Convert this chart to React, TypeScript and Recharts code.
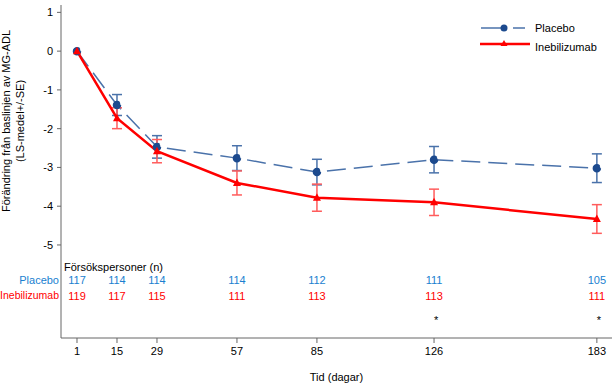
import { LineChart, Line, XAxis, YAxis, ErrorBar, ReferenceDot } from 'recharts';

const days = [1, 15, 29, 57, 85, 126, 183];
const placeboMean = [0, -1.39, -2.47, -2.76, -3.12, -2.8, -3.02];
const placeboSe = [0, 0.27, 0.29, 0.32, 0.33, 0.34, 0.37];
const inebMean = [0, -1.73, -2.58, -3.4, -3.78, -3.9, -4.33];
const inebSe = [0, 0.27, 0.3, 0.31, 0.35, 0.34, 0.37];
const placeboN = [117, 114, 114, 114, 112, 111, 105];
const inebN = [119, 117, 115, 111, 113, 113, 111];
const significantDays = [126, 183];
const yTicks = [1, 0, -1, -2, -3, -4, -5];

const BLUE_LINE = '#4a72aa';
const BLUE_DOT = '#1c4a8e';
const BLUE_TEXT = '#1a7fd0';
const RED = '#ff0000';
const RED_BAR = '#ff5c5c';
const AXIS = '#666';
const FONT = '"Liberation Sans", Arial, sans-serif';

const data = days.map((d, i) => ({
  day: d,
  placebo: placeboMean[i],
  placeboSe: placeboSe[i],
  ineb: inebMean[i],
  inebSe: inebSe[i],
}));

const Triangle = (props: any) => {
  const { cx, cy } = props;
  if (cx == null || cy == null) return null;
  return <polygon points={`${cx},${cy - 4.5} ${cx - 4},${cy + 3} ${cx + 4},${cy + 3}`} fill={RED} />;
};

// legend drawn as an overlay so it does not take space from the plot
const LegendBox = () => (
  <svg width={134} height={44} style={{ position: 'absolute', left: 480, top: 14 }}>
    <line x1={1} y1={14} x2={26} y2={14} stroke={BLUE_LINE} strokeWidth={1.5} />
    <line x1={33} y1={14} x2={45} y2={14} stroke={BLUE_LINE} strokeWidth={1.5} />
    <circle cx={24} cy={14} r={3.5} fill={BLUE_DOT} />
    <text x={55} y={18} fontSize={11} fontFamily={FONT} fill="#000">Placebo</text>
    <line x1={0} y1={30} x2={50} y2={30} stroke={RED} strokeWidth={2.5} />
    <polygon points="24,26 20.5,32 27.5,32" fill={RED} />
    <text x={55} y={37} fontSize={11} fontFamily={FONT} fill="#000">Inebilizumab</text>
  </svg>
);

const YLabel = () => (
  <g transform="rotate(-90, 14, 121)">
    <text x={14} y={121} textAnchor="middle" fontSize={11} fontFamily={FONT} fill="#000">
      <tspan x={14} dy={-4}>Förändring från baslinjen av MG-ADL</tspan>
      <tspan x={14} dy={14}>(LS-medel+/-SE)</tspan>
    </text>
  </g>
);

export default function App() {
  return (
    <div style={{ position: 'absolute', left: 0, top: 0, width: 614, height: 385, background: '#fff' }}>
      <LineChart width={614} height={385} data={data} margin={{ top: 5, right: 2, left: 0, bottom: 0 }}>
        <XAxis
          dataKey="day"
          type="number"
          domain={[-4.6, 188.3]}
          ticks={days}
          interval={0}
          height={47}
          tickSize={5}
          tickMargin={4}
          stroke={AXIS}
          tick={{ fontSize: 11, fill: '#000', fontFamily: FONT }}
          label={{ value: 'Tid (dagar)', position: 'insideBottom', offset: 4, fontSize: 11, fill: '#000', fontFamily: FONT }}
        />
        <YAxis
          type="number"
          domain={[-7.4, 1.19]}
          ticks={yTicks}
          interval={0}
          width={61}
          tickSize={4}
          tickMargin={4}
          stroke={AXIS}
          tick={{ fontSize: 11, fill: '#000', fontFamily: FONT }}
          label={{ content: () => <YLabel /> }}
        />
        <Line
          dataKey="placebo"
          type="linear"
          stroke={BLUE_LINE}
          strokeWidth={1.5}
          strokeDasharray="19 8"
          dot={{ r: 3.5, fill: BLUE_DOT, stroke: BLUE_DOT }}
          isAnimationActive={false}
        >
          <ErrorBar dataKey="placeboSe" width={5} stroke={BLUE_LINE} strokeWidth={1.5} />
        </Line>
        <Line
          dataKey="ineb"
          type="linear"
          stroke={RED}
          strokeWidth={2.5}
          dot={<Triangle />}
          isAnimationActive={false}
        >
          <ErrorBar dataKey="inebSe" width={5} stroke={RED_BAR} strokeWidth={1.5} />
        </Line>
        <ReferenceDot
          x={-4.6}
          y={-5.57}
          r={1}
          fill="none"
          stroke="none"
          label={{ value: 'Försökspersoner (n)', position: 'right', offset: 2, fontSize: 11, fill: '#000', fontFamily: FONT }}
        />
        <ReferenceDot
          x={-4.6}
          y={-5.9}
          r={1}
          fill="none"
          stroke="none"
          label={{ value: 'Placebo', position: 'left', offset: 1, fontSize: 11, fill: BLUE_TEXT, fontFamily: FONT }}
        />
        <ReferenceDot
          x={-4.6}
          y={-6.31}
          r={1}
          fill="none"
          stroke="none"
          label={{ value: 'Inebilizumab', position: 'left', offset: 1, fontSize: 10.5, fill: RED, fontFamily: FONT }}
        />
        {days.map((d, i) => (
          <ReferenceDot
            key={`pn-${d}`}
            x={d}
            y={-5.9}
            r={1}
            fill="none"
            stroke="none"
            label={{ value: placeboN[i], position: 'center', fontSize: 11, fill: BLUE_TEXT, fontFamily: FONT }}
          />
        ))}
        {days.map((d, i) => (
          <ReferenceDot
            key={`in-${d}`}
            x={d}
            y={-6.31}
            r={1}
            fill="none"
            stroke="none"
            label={{ value: inebN[i], position: 'center', fontSize: 11, fill: RED, fontFamily: FONT }}
          />
        ))}
        {significantDays.map((d) => (
          <ReferenceDot
            key={`sig-${d}`}
            x={d}
            y={-6.95}
            r={1}
            fill="none"
            stroke="none"
            label={{ value: '*', position: 'center', dx: 2, fontSize: 11, fill: '#000', fontFamily: FONT }}
          />
        ))}
      </LineChart>
      <LegendBox />
    </div>
  );
}
